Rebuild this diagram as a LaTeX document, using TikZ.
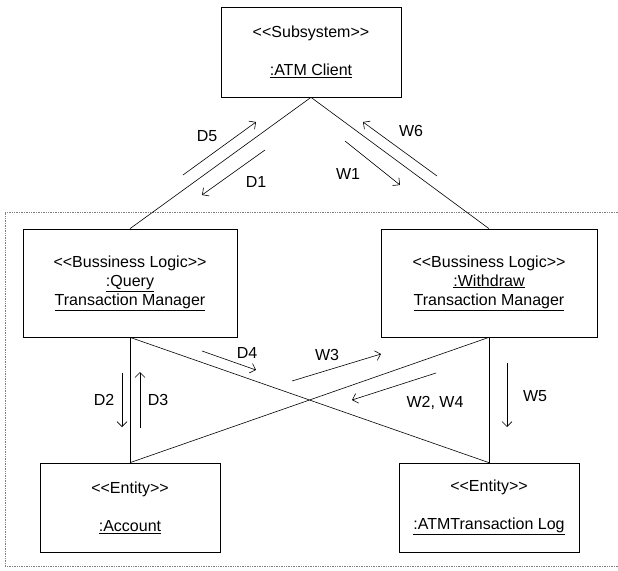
\documentclass[tikz,border=0pt]{standalone}
\usepackage{fontspec}
\setmainfont{Liberation Sans}
\usetikzlibrary{arrows.meta}
% stereotype guillemets written as plain angle brackets
\newcommand\stereo[1]{<{}<#1>{}>}
\begin{document}
\begin{tikzpicture}[x=1pt,y=-1pt,
  txt/.style={font=\fontsize{16}{19}\selectfont},
  obj/.style={draw, line width=0.7pt, align=center, inner sep=0pt, txt},
  link/.style={line width=0.6pt},
  msg/.style={line width=0.6pt, -{Straight Barb[length=5pt,width=10pt]}},
  lbl/.style={txt, inner sep=0pt}]
\useasboundingbox (0,0) rectangle (618,570);

% dotted package boundary
\draw[gray, densely dotted, line width=0.7pt] (618,212) -- (5,212) -- (5,566) -- (618,566);

% objects
\node[obj, minimum width=180pt, minimum height=90pt] (client) at (311,52)
  {\stereo{Subsystem}\\[19pt]\underline{:ATM Client}};
\node[obj, minimum width=214pt, minimum height=108pt] (query) at (130,283)
  {\stereo{Bussiness Logic}\\\underline{:Query}\\\underline{Transaction Manager}};
\node[obj, minimum width=216pt, minimum height=108pt] (withdraw) at (489,283)
  {\stereo{Bussiness Logic}\\\underline{:Withdraw}\\\underline{Transaction Manager}};
\node[obj, minimum width=180pt, minimum height=89pt] (account) at (130,507.5)
  {\stereo{Entity}\\[19pt]\underline{:Account}};
\node[obj, minimum width=180pt, minimum height=89pt] (log) at (489,507.5)
  {\stereo{Entity}\\[19pt]\underline{:ATMTransaction Log}};

% links
\draw[link] (client.south) -- (query.north);
\draw[link] (client.south) -- (withdraw.north);
\draw[link] (query.south) -- (account.north);
\draw[link] (withdraw.south) -- (log.north);
\draw[link] (query.south) -- (log.north);
\draw[link] (withdraw.south) -- (account.north);

% message arrow end points
\coordinate (d5a) at (183,175); \coordinate (d5b) at (256,122);
\coordinate (d1a) at (265,150); \coordinate (d1b) at (202,195);
\coordinate (w1a) at (345,141); \coordinate (w1b) at (400,185);
\coordinate (w6a) at (437,176); \coordinate (w6b) at (363,122);
\coordinate (d4a) at (202,351); \coordinate (d4b) at (256,370);
\coordinate (w3a) at (292,381); \coordinate (w3b) at (381,354);
\coordinate (w24a) at (436,373); \coordinate (w24b) at (352,400);
\coordinate (d2a) at (122,373); \coordinate (d2b) at (122,427);
\coordinate (d3a) at (140,428); \coordinate (d3b) at (140,372);
\coordinate (w5a) at (507,363); \coordinate (w5b) at (507,427);

% messages
\draw[msg] (d5a) -- (d5b);
\draw[msg] (d1a) -- (d1b);
\draw[msg] (w1a) -- (w1b);
\draw[msg] (w6a) -- (w6b);
\draw[msg] (d4a) -- (d4b);
\draw[msg] (w3a) -- (w3b);
\draw[msg] (w24a) -- (w24b);
\draw[msg] (d2a) -- (d2b);
\draw[msg] (d3a) -- (d3b);
\draw[msg] (w5a) -- (w5b);

% message labels
\node[lbl] (ld5) at (207,136) {D5};
\node[lbl] (ld1) at (256,182) {D1};
\node[lbl] (lw1) at (348,174) {W1};
\node[lbl] (lw6) at (411,131) {W6};
\node[lbl] (ld4) at (247,353) {D4};
\node[lbl] (lw3) at (327,355) {W3};
\node[lbl] (lw24) at (435,403) {W2, W4};
\node[lbl] (ld2) at (104,400) {D2};
\node[lbl] (ld3) at (158,400) {D3};
\node[lbl] (lw5) at (535,396) {W5};
\end{tikzpicture}
\end{document}
